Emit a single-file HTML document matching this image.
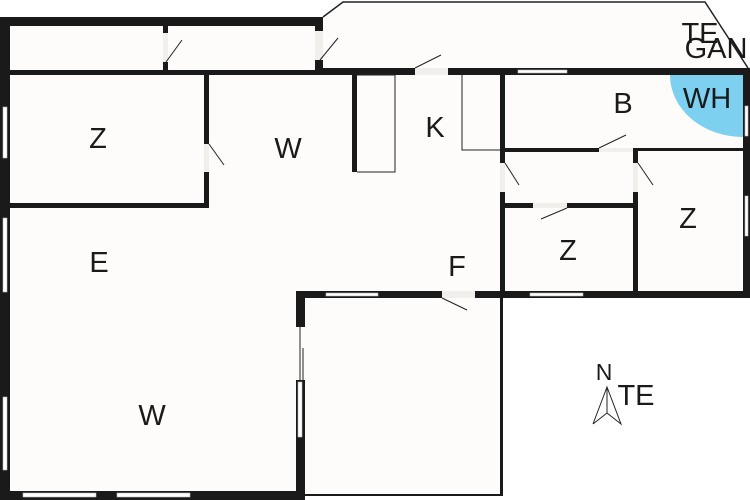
<!DOCTYPE html>
<html><head><meta charset="utf-8"><style>
html,body{margin:0;padding:0;background:#fff;}
svg{display:block;}
text{font-family:"Liberation Sans",sans-serif;fill:#1a1a1a;}
</style></head><body>
<svg width="750" height="500" viewBox="0 0 750 500" xmlns="http://www.w3.org/2000/svg">
<rect x="0" y="0" width="750" height="500" fill="#ffffff"/>
<polygon points="0,17 323,17 343,2 705,2 750,68 750,297 503,297 503,496 303,496 303,500 0,500" fill="#fdfcfa"/>
<rect x="503" y="297" width="247" height="203" fill="#ffffff"/>
<path d="M743,75 L670,75 A73,62 0 0 0 743,137 Z" fill="#7dd0f0"/>
<polyline points="323,17 343,2 705,2 748,68" fill="none" stroke="#222" stroke-width="1.5"/>
<g fill="#1a1a1a">
<rect x="0" y="17" width="10" height="483"/>
<rect x="0" y="17" width="323" height="9"/>
<rect x="10" y="70" width="310" height="5"/>
<rect x="163" y="26" width="5" height="7"/><rect x="163" y="62" width="5" height="10"/>
<rect x="315" y="17" width="8" height="14"/><rect x="315" y="60" width="8" height="15"/>
<rect x="315" y="68" width="100" height="7"/>
<rect x="448" y="68" width="302" height="7"/>
<rect x="743" y="68" width="7" height="230"/>
<rect x="204" y="70" width="5" height="74"/><rect x="204" y="172" width="5" height="36"/>
<rect x="10" y="203" width="199" height="5"/>
<rect x="352" y="75" width="5" height="97"/>
<rect x="500" y="68" width="5" height="95"/><rect x="500" y="192" width="5" height="106"/>
<rect x="505" y="148" width="94" height="4"/>
<rect x="633" y="148" width="5" height="15"/><rect x="633" y="192" width="5" height="106"/>
<rect x="633" y="148" width="112" height="3"/>
<rect x="505" y="203" width="28" height="5"/><rect x="567" y="203" width="71" height="5"/>
<rect x="296" y="291" width="146" height="7"/>
<rect x="475" y="291" width="275" height="7"/>
<rect x="296" y="291" width="9" height="36"/>
<rect x="296" y="380" width="9" height="120"/>
<rect x="0" y="491" width="305" height="9"/>
<rect x="500" y="298" width="3" height="198"/>
<rect x="303" y="494" width="200" height="2"/>
</g>
<g fill="#f0efec">
<rect x="415" y="68" width="33" height="7"/>
<rect x="442" y="291" width="33" height="7"/>
<rect x="599" y="148" width="34" height="4"/>
<rect x="533" y="203" width="34" height="5"/>
<rect x="500" y="163" width="5" height="29"/>
<rect x="633" y="163" width="5" height="29"/>
<rect x="204" y="144" width="5" height="28"/>
<rect x="163" y="33" width="5" height="29"/>
<rect x="315" y="31" width="8" height="29"/>
</g>
<g fill="#fff" stroke="#bbb" stroke-width="0.6">
<rect x="518" y="70" width="49" height="3"/>
<rect x="745" y="106" width="3" height="30"/>
<rect x="745" y="196" width="3" height="40"/>
<rect x="326" y="293" width="52" height="3"/>
<rect x="530" y="293" width="53" height="3"/>
<rect x="3" y="107" width="4" height="51"/>
<rect x="3" y="218" width="4" height="74"/>
<rect x="3" y="397" width="4" height="73"/>
<rect x="23" y="493" width="73" height="4"/>
<rect x="117" y="493" width="73" height="4"/>
<rect x="298" y="382" width="4" height="55"/>
</g>
<g fill="none" stroke="#222" stroke-width="1">
<polyline points="357,75 395,75 395,172 357,172"/>
<polyline points="462,75 462,150 500,150"/>
<line x1="166" y1="62" x2="182" y2="40"/>
<line x1="320" y1="60" x2="338" y2="38"/>
<line x1="415" y1="68" x2="441" y2="55"/>
<line x1="209" y1="144" x2="224" y2="165"/>
<line x1="599" y1="148" x2="626" y2="135"/>
<line x1="505" y1="163" x2="519" y2="185"/>
<line x1="638" y1="163" x2="653" y2="185"/>
<line x1="567" y1="208" x2="541" y2="219"/>
<line x1="442" y1="298" x2="467" y2="310"/>
<line x1="300" y1="327" x2="300" y2="380"/>
<line x1="303" y1="348" x2="303" y2="380"/>
<polyline points="593,424 607,387 621,424 607,413 593,424"/>
<line x1="607" y1="387" x2="607" y2="413"/>
</g>
<g font-size="29" text-anchor="middle">
<text x="98" y="148">Z</text>
<text x="288" y="158">W</text>
<text x="435" y="137">K</text>
<text x="623" y="113">B</text>
<text x="707" y="108">WH</text>
<text x="688" y="228">Z</text>
<text x="568" y="260">Z</text>
<text x="457" y="276">F</text>
<text x="99" y="272">E</text>
<text x="152" y="425">W</text>
<text x="636" y="405">TE</text>
<text x="700" y="43">TE</text>
<text x="716" y="58">GAN</text>
<text x="604" y="380" font-size="23">N</text>
</g>
</svg>
</body></html>
